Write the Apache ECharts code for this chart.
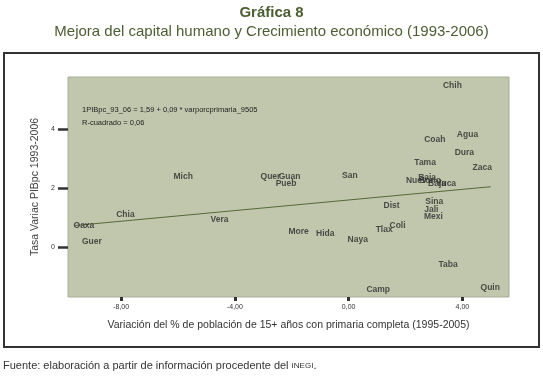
<!DOCTYPE html>
<html>
<head>
<meta charset="utf-8">
<script src="https://cdn.jsdelivr.net/npm/echarts@6/dist/echarts.min.js"></script>
<style>
  html, body { margin: 0; padding: 0; background: #fff; }
  #chart { width: 543px; height: 376px; }
</style>
</head>
<body>
<div id="chart"></div>
<script>
// estados (abreviaturas) y sus valores
const states = ['Chih', 'Coah', 'Agua', 'Dura', 'Tama', 'Zaca', 'San', 'Nuev', 'Baja', 'Sono', 'Baja', 'Yuca',
  'Mich', 'Quer', 'Guan', 'Pueb', 'Dist', 'Sina', 'Jali', 'Mexi', 'Tlax', 'Coli', 'More', 'Hida',
  'Naya', 'Taba', 'Camp', 'Quin', 'Oaxa', 'Chia', 'Vera', 'Guer'];
// variación % población 15+ con primaria completa
const xValues = [3.65, 3.03, 4.18, 4.07, 2.69, 4.70, 0.04, 2.38, 2.76, 2.87, 3.11, 3.43,
  -5.82, -2.75, -2.08, -2.20, 1.51, 3.01, 2.91, 2.98, 1.25, 1.72, -1.76, -0.82,
  0.32, 3.50, 1.04, 4.98, -9.31, -7.85, -4.54, -9.03];
// tasa variación PIBpc 1993-2006
const yValues = [5.46, 3.63, 3.79, 3.20, 2.86, 2.68, 2.41, 2.24, 2.36, 2.24, 2.14, 2.14,
  2.37, 2.37, 2.37, 2.14, 1.40, 1.52, 1.25, 1.03, 0.60, 0.71, 0.50, 0.44,
  0.24, -0.61, -1.46, -1.38, 0.71, 1.08, 0.92, 0.17];

// recta de regresión
const intercept = 1.59;
const slope = 0.09;
const fitX = [-9.62, 5.0];

const xTicks = [-8, -4, 0, 4];
const yTicks = [0, 2, 4];

const chart = echarts.init(document.getElementById('chart'));

const pointData = states.map((s, i) => ({ name: s, value: [xValues[i], yValues[i]] }));
const fitData = fitX.map(x => [x, intercept + slope * x]);

const fmt = v => v.toFixed(2).replace('.', ',');

const option = {
  animation: false,
  textStyle: { fontFamily: 'Liberation Sans, Arial, sans-serif' },
  title: [
    {
      text: 'Gráfica 8',
      left: 'center',
      top: 0,
      textStyle: { fontSize: 15, fontWeight: 'bold', color: '#4b5e32' }
    },
    {
      text: 'Mejora del capital humano y Crecimiento económico (1993-2006)',
      left: 'center',
      top: 19,
      textStyle: { fontSize: 15, fontWeight: 'normal', color: '#4b5e32' }
    }
  ],
  grid: {
    left: 68,
    top: 77,
    right: 34,
    bottom: 79,
    show: true,
    backgroundColor: '#c0c7ad',
    borderColor: '#a9ae9a',
    borderWidth: 1
  },
  xAxis: {
    type: 'value',
    min: -9.87,
    max: 5.64,
    name: 'Variación del % de población de 15+ años con primaria completa (1995-2005)',
    nameLocation: 'middle',
    nameGap: 23,
    nameTextStyle: { fontSize: 10.5, color: '#333' },
    axisLine: { show: false, onZero: false },
    splitLine: { show: false },
    axisTick: {
      show: true,
      customValues: xTicks,
      length: 4,
      lineStyle: { color: '#333', width: 3 }
    },
    axisLabel: {
      customValues: xTicks,
      formatter: fmt,
      fontSize: 7,
      color: '#333',
      margin: 7
    }
  },
  yAxis: {
    type: 'value',
    min: -1.7,
    max: 5.76,
    name: 'Tasa Variac PIBpc 1993-2006',
    nameLocation: 'middle',
    nameGap: 25,
    nameTextStyle: { fontSize: 10.5, color: '#444' },
    axisLine: { show: false, onZero: false },
    splitLine: { show: false },
    axisTick: {
      show: true,
      customValues: yTicks,
      length: 10,
      lineStyle: { color: '#333', width: 2.5 }
    },
    axisLabel: {
      customValues: yTicks,
      fontSize: 7,
      color: '#333',
      margin: 13
    }
  },
  graphic: [
    {
      type: 'rect',
      shape: { x: 4, y: 53, width: 535, height: 294 },
      style: { fill: 'none', stroke: '#333', lineWidth: 2 },
      silent: true
    },
    {
      type: 'text',
      left: 82,
      top: 103,
      style: {
        text: '1PIBpc_93_06 = 1,59 + 0,09 * varporcprimaria_9505\nR-cuadrado = 0,06',
        fontSize: 7.5,
        lineHeight: 13,
        fill: '#222',
        fontFamily: 'Liberation Sans, Arial, sans-serif'
      }
    },
    {
      type: 'text',
      left: 3,
      top: 360,
      style: {
        text: '{a|Fuente: elaboración a partir de información procedente del }{b|INEGI}{a|.}',
        rich: {
          a: { fontSize: 11, fill: '#333', fontFamily: 'Liberation Sans, Arial, sans-serif' },
          b: { fontSize: 8, fill: '#333', fontFamily: 'Liberation Sans, Arial, sans-serif' }
        }
      }
    }
  ],
  series: [
    {
      type: 'line',
      data: fitData,
      symbol: 'none',
      lineStyle: { color: '#55693a', width: 1 },
      z: 2,
      silent: true
    },
    {
      type: 'scatter',
      data: pointData,
      symbolSize: 0,
      z: 3,
      label: {
        show: true,
        position: 'inside',
        formatter: p => p.name,
        fontSize: 8.5,
        fontWeight: 'bold',
        color: '#2a2a2a'
      }
    }
  ]
};

chart.setOption(option);
</script>
</body>
</html>
